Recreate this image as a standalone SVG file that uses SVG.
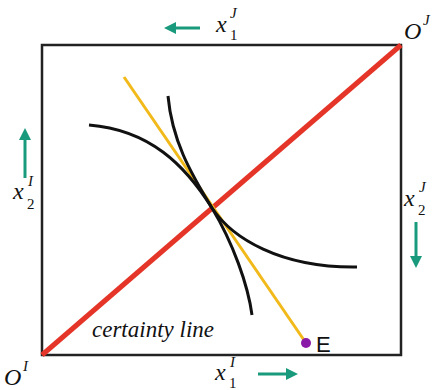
<svg xmlns="http://www.w3.org/2000/svg" width="437" height="390" viewBox="0 0 437 390">
<style>
.m{font-style:italic;fill:#111}
.n{fill:#111;font-size:15px}
.big{font-size:24px}
.sc{font-size:15px}
.arr{stroke:#1a9a7c;stroke-width:3;fill:none}
.curve{stroke:#111;stroke-width:3;fill:none}
</style>
<defs>
<marker id="ah" viewBox="0 0 10 10" refX="5" refY="5" markerWidth="4" markerHeight="4" orient="auto">
<path d="M0,0 L10,5 L0,10 Z" fill="#1a9a7c"/>
</marker>
</defs>
<rect x="42" y="45" width="359" height="310" fill="none" stroke="#222" stroke-width="2.5"/>
<g id="connectors">
<line x1="42" y1="355" x2="401" y2="45" stroke="#e53528" stroke-width="5"/>
<line x1="124" y1="77" x2="306" y2="343" stroke="#f2b91a" stroke-width="3"/>
<path class="curve" d="M89,125 C150,130 185,165 212,208 C232,238 280,268 357,267"/>
<path class="curve" d="M168,96 C172,140 190,172 212,208 C233,243 248,285 252,315"/>
</g>
<g id="E"><circle cx="306" cy="343" r="5" fill="#8a1aa8"/><text x="316" y="352" font-family="Liberation Sans,Arial,sans-serif" font-size="22" fill="#111">E</text></g>
<g font-family="Liberation Serif, 'Times New Roman', serif">
<g id="certainty"><text class="m" x="92" y="337" font-size="23">certainty line</text></g>
<g id="top">
<line class="arr" x1="200" y1="28" x2="170" y2="28" marker-end="url(#ah)"/>
<text class="m big" x="216" y="32">x</text><text class="m sc" x="230" y="18">J</text><text class="n" x="230" y="40">1</text>
</g>
<g id="OJ"><text class="m big" x="404" y="39">O</text><text class="m sc" x="423" y="25">J</text></g>
<g id="left">
<line class="arr" x1="25" y1="178" x2="25" y2="134" marker-end="url(#ah)"/>
<text class="m big" x="13" y="199">x</text><text class="m sc" x="28" y="186">I</text><text class="n" x="27" y="209">2</text>
</g>
<g id="right">
<line class="arr" x1="416" y1="222" x2="416" y2="262" marker-end="url(#ah)"/>
<text class="m big" x="404" y="206">x</text><text class="m sc" x="419" y="192">J</text><text class="n" x="418" y="215">2</text>
</g>
<g id="OI"><text class="m big" x="4" y="385">O</text><text class="m sc" x="23" y="371">I</text></g>
<g id="bottom">
<text class="m big" x="215" y="380">x</text><text class="m sc" x="230" y="367">I</text><text class="n" x="229" y="388">1</text>
<line class="arr" x1="258" y1="374" x2="292" y2="374" marker-end="url(#ah)"/>
</g>
</g>
</svg>
